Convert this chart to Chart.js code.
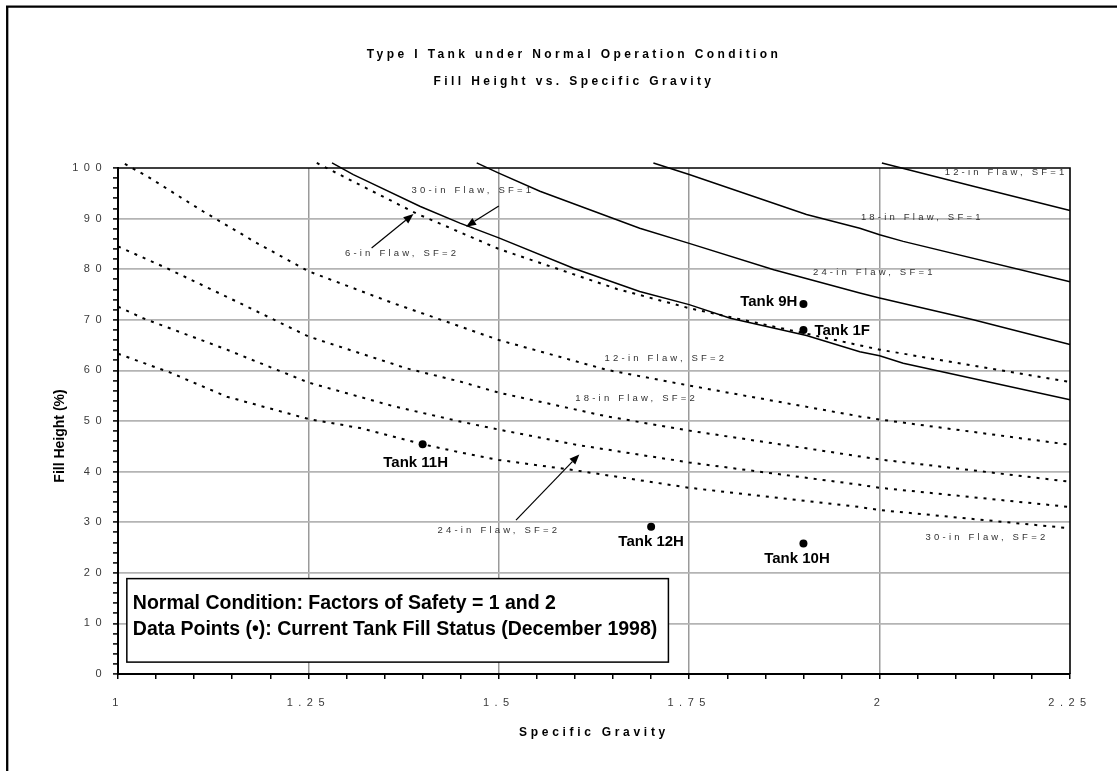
<!DOCTYPE html>
<html>
<head>
<meta charset="utf-8">
<script src="https://cdn.jsdelivr.net/npm/chart.js@4.4.1/dist/chart.umd.min.js"></script>
<style>
  html, body { margin: 0; padding: 0; background: #fff; }
  canvas { display: block; }
</style>
</head>
<body>
<canvas id="chart" width="1117" height="771"></canvas>
<script>
const FONT = '"Liberation Sans", Arial, Helvetica, sans-serif';

// Axis ticks
const xTickValues = [1, 1.25, 1.5, 1.75, 2, 2.25];
const xTickLabels = ['1', '1.25', '1.5', '1.75', '2', '2.25'];
const yTickValues = [0, 10, 20, 30, 40, 50, 60, 70, 80, 90, 100];
const yTickLabels = ['0', '10', '20', '30', '40', '50', '60', '70', '80', '90', '100'];

// Allowable fill height (%) vs specific gravity, factor of safety = 1
const flaw12SF1 = [[2.003, 101.0], [2.123, 96.4], [2.25, 91.6]];
const flaw18SF1 = [[1.703, 101.0], [1.75, 98.7], [1.904, 90.8], [1.974, 88.1], [2.0, 86.8], [2.031, 85.5], [2.25, 77.5]];
const flaw24SF1 = [[1.471, 101.0], [1.5, 99.0], [1.554, 95.4], [1.685, 88.1], [1.75, 85.1], [1.861, 79.9], [1.974, 75.3], [2.0, 74.3], [2.123, 70.0], [2.25, 65.1]];
const flaw30SF1 = [[1.281, 101.0], [1.309, 98.7], [1.327, 97.4], [1.397, 92.4], [1.449, 89.1], [1.5, 86.2], [1.598, 80.2], [1.685, 75.6], [1.75, 73.0], [1.804, 70.3], [1.904, 66.9], [1.974, 63.7], [2.0, 62.9], [2.031, 61.4], [2.25, 54.2]];

// Allowable fill height (%) vs specific gravity, factor of safety = 2
const flaw6SF2 = [[1.261, 101.0], [1.300, 98.0], [1.392, 91.0], [1.5, 84.0], [1.655, 76.1], [1.75, 72.3], [2.0, 64.1], [2.25, 57.7]];
const flaw12SF2 = [[1.009, 100.8], [1.040, 98.2], [1.112, 91.4], [1.182, 85.2], [1.25, 79.6], [1.361, 73.3], [1.449, 68.7], [1.5, 66.0], [1.642, 60.1], [1.75, 57.0], [1.974, 50.9], [2.0, 50.3], [2.25, 45.3]];
const flaw18SF2 = [[1.0, 84.5], [1.064, 80.2], [1.160, 73.3], [1.25, 66.7], [1.379, 60.4], [1.449, 57.8], [1.5, 55.6], [1.642, 50.9], [1.75, 48.1], [1.904, 44.6], [2.0, 42.4], [2.25, 38.0]];
const flaw24SF2 = [[1.0, 72.6], [1.033, 70.3], [1.143, 64.1], [1.25, 57.6], [1.362, 52.9], [1.449, 49.9], [1.5, 48.3], [1.602, 45.3], [1.75, 41.8], [1.974, 37.4], [2.0, 36.8], [2.25, 33.0]];
const flaw30SF2 = [[1.0, 63.3], [1.068, 59.6], [1.143, 54.8], [1.25, 50.4], [1.318, 48.6], [1.4, 45.4], [1.449, 43.8], [1.5, 42.3], [1.598, 40.3], [1.75, 36.8], [1.974, 33.0], [2.0, 32.4], [2.25, 28.8]];

// Current tank fill status (December 1998)
const tankNames = ['Tank 9H', 'Tank 1F', 'Tank 11H', 'Tank 12H', 'Tank 10H'];
const tankSG = [1.9, 1.9, 1.4, 1.7, 1.9];
const tankFill = [73.1, 68.0, 45.4, 29.1, 25.8];

const toPoints = arr => arr.map(([x, y]) => ({ x, y }));
const labelFor = (values, labels, v) => {
  const i = values.findIndex(t => Math.abs(t - v) < 1e-6);
  return i >= 0 ? labels[i] : '';
};
const isInner = (values, v) => values.slice(1, -1).some(t => Math.abs(t - v) < 1e-6);

// Curve captions (placed in data units)
const curveCaptions = [
  { text: '12-in Flaw, SF=1', x: 2.166, y: 99.1 },
  { text: '18-in Flaw, SF=1', x: 2.056, y: 90.2 },
  { text: '24-in Flaw, SF=1', x: 1.993, y: 79.3 },
  { text: '30-in Flaw, SF=1', x: 1.466, y: 95.65 },
  { text: '6-in Flaw, SF=2', x: 1.373, y: 83.2 },
  { text: '12-in Flaw, SF=2', x: 1.7195, y: 62.4 },
  { text: '18-in Flaw, SF=2', x: 1.681, y: 54.5 },
  { text: '24-in Flaw, SF=2', x: 1.500, y: 28.3 },
  { text: '30-in Flaw, SF=2', x: 2.141, y: 27.0 }
];

// Leader arrows: tail -> head, in data units
const leaderArrows = [
  { from: [1.333, 84.2], to: [1.388, 90.9] },
  { from: [1.500, 92.5], to: [1.457, 88.4] },
  { from: [1.5226, 30.4], to: [1.6057, 43.4] }
];

// Tank label placement relative to the marker (pixels)
const tankLabelPlacement = [
  { align: 'right', dx: -6, dy: -2 },
  { align: 'left', dx: 11, dy: 1 },
  { align: 'center', dx: -7, dy: 19 },
  { align: 'center', dx: 0, dy: 15 },
  { align: 'center', dx: -6.5, dy: 15 }
];

const noteLines = [
  'Normal Condition: Factors of Safety = 1 and 2',
  'Data Points (\u2022): Current Tank Fill Status (December 1998)'
];

// Letter-spaced rendering for some library-drawn texts (optional horizontal shift)
const spacedParts = [
  { get: ch => ch.titleBlock, method: 'draw', spacing: '3.4px', shift: 9 },
  { get: ch => ch.scales.x, method: 'drawLabels', spacing: '5.5px', shift: 0 },
  { get: ch => ch.scales.x, method: 'drawTitle', spacing: '3.7px', shift: 0 },
  { get: ch => ch.scales.y, method: 'drawLabels', spacing: '5.5px', shift: 0 }
];
const letterSpacingPlugin = {
  id: 'letterSpacing',
  beforeDraw(chart) {
    spacedParts.forEach(p => {
      const obj = p.get(chart);
      if (!obj) return;
      const key = '_spaced_' + p.method;
      if (obj[key]) return;
      const orig = obj[p.method];
      obj[p.method] = function (...args) {
        const c = this.ctx;
        c.save();
        c.letterSpacing = p.spacing;
        if (p.shift) c.translate(p.shift, 0);
        const r = orig.apply(this, args);
        c.restore();
        return r;
      };
      obj[key] = true;
    });
  }
};

// Page background and the frame at the top-left edges
const pagePlugin = {
  id: 'page',
  beforeDraw(chart) {
    const c = chart.ctx;
    c.save();
    c.fillStyle = '#fff';
    c.fillRect(0, 0, chart.width, chart.height);
    c.strokeStyle = '#000';
    c.lineWidth = 2.3;
    c.beginPath();
    c.moveTo(7.2, 5.6);
    c.lineTo(7.2, chart.height);
    c.moveTo(6, 6.7);
    c.lineTo(chart.width, 6.7);
    c.stroke();
    c.restore();
  }
};

function drawArrow(c, x0, y0, x1, y1) {
  const ang = Math.atan2(y1 - y0, x1 - x0);
  const len = 10, half = 4;
  const bx = x1 - len * Math.cos(ang), by = y1 - len * Math.sin(ang);
  c.beginPath();
  c.moveTo(x0, y0);
  c.lineTo(bx, by);
  c.stroke();
  c.beginPath();
  c.moveTo(x1, y1);
  c.lineTo(bx + half * Math.sin(ang), by - half * Math.cos(ang));
  c.lineTo(bx - half * Math.sin(ang), by + half * Math.cos(ang));
  c.closePath();
  c.fill();
}

const annotationPlugin = {
  id: 'annotations',
  afterDatasetsDraw(chart) {
    const c = chart.ctx;
    const xs = chart.scales.x, ys = chart.scales.y;
    const px = v => xs.getPixelForValue(v);
    const py = v => ys.getPixelForValue(v);
    const area = chart.chartArea;
    c.save();

    // top and right edges of the plot frame
    c.strokeStyle = '#000';
    c.lineWidth = 1.6;
    c.beginPath();
    c.moveTo(area.left, area.top);
    c.lineTo(area.right, area.top);
    c.lineTo(area.right, area.bottom);
    c.stroke();

    // curve captions
    c.fillStyle = '#333';
    c.font = '9.5px ' + FONT;
    c.letterSpacing = '3.2px';
    c.textAlign = 'center';
    c.textBaseline = 'middle';
    curveCaptions.forEach(l => c.fillText(l.text, px(l.x), py(l.y)));
    c.letterSpacing = '0px';

    // leader arrows
    c.strokeStyle = '#000';
    c.fillStyle = '#000';
    c.lineWidth = 1.2;
    leaderArrows.forEach(a => drawArrow(c, px(a.from[0]), py(a.from[1]), px(a.to[0]), py(a.to[1])));

    // tank labels
    c.font = 'bold 15px ' + FONT;
    c.fillStyle = '#000';
    c.textBaseline = 'middle';
    tankNames.forEach((name, i) => {
      const p = tankLabelPlacement[i];
      c.textAlign = p.align;
      c.fillText(name, px(tankSG[i]) + p.dx, py(tankFill[i]) + p.dy);
    });

    // note box
    const bx0 = px(1.0116), bx1 = px(1.7227);
    const by0 = py(18.85), by1 = py(2.35);
    c.fillStyle = '#fff';
    c.fillRect(bx0, by0, bx1 - bx0, by1 - by0);
    c.strokeStyle = '#000';
    c.lineWidth = 1.5;
    c.strokeRect(bx0, by0, bx1 - bx0, by1 - by0);
    c.fillStyle = '#000';
    c.font = 'bold 19.5px ' + FONT;
    c.textAlign = 'left';
    c.textBaseline = 'middle';
    noteLines.forEach((t, i) => c.fillText(t, bx0 + 6, by0 + 25 + i * 26.5));

    // vertical axis title
    c.save();
    c.translate(60, (area.top + area.bottom) / 2 + 15);
    c.rotate(-Math.PI / 2);
    c.font = 'bold 14px ' + FONT;
    c.textAlign = 'center';
    c.textBaseline = 'middle';
    c.fillText('Fill Height (%)', 0, 0);
    c.restore();

    c.restore();
  }
};

const solid = (label, data) => ({
  label, data: toPoints(data), showLine: true, borderColor: '#000', borderWidth: 1.5,
  pointRadius: 0, fill: false, tension: 0, clip: { left: 0, top: 8, right: 1, bottom: 0 }
});
const dotted = (label, data) => ({
  label, data: toPoints(data), showLine: true, borderColor: '#000', borderWidth: 2,
  borderDash: [3, 6], pointRadius: 0, fill: false, tension: 0, clip: { left: 0, top: 8, right: 1, bottom: 0 }
});

new Chart(document.getElementById('chart'), {
  type: 'scatter',
  data: {
    datasets: [
      solid('12-in Flaw, SF=1', flaw12SF1),
      solid('18-in Flaw, SF=1', flaw18SF1),
      solid('24-in Flaw, SF=1', flaw24SF1),
      solid('30-in Flaw, SF=1', flaw30SF1),
      dotted('6-in Flaw, SF=2', flaw6SF2),
      dotted('12-in Flaw, SF=2', flaw12SF2),
      dotted('18-in Flaw, SF=2', flaw18SF2),
      dotted('24-in Flaw, SF=2', flaw24SF2),
      dotted('30-in Flaw, SF=2', flaw30SF2),
      {
        label: 'Current Tank Fill Status',
        data: tankSG.map((x, i) => ({ x, y: tankFill[i] })),
        showLine: false, pointRadius: 4, pointBackgroundColor: '#000', pointBorderColor: '#000', pointBorderWidth: 0
      }
    ]
  },
  options: {
    responsive: false,
    animation: false,
    devicePixelRatio: 1,
    layout: { padding: { left: 60, right: 47, top: 0, bottom: 0 } },
    plugins: {
      legend: { display: false },
      tooltip: { enabled: false },
      title: {
        display: true,
        text: ['Type I Tank under Normal Operation Condition', 'Fill Height vs. Specific Gravity'],
        color: '#000',
        font: { family: FONT, size: 12, weight: 'bold', lineHeight: '27px' },
        padding: { top: 41.5, bottom: 72.5 }
      }
    },
    scales: {
      x: {
        type: 'linear', position: 'bottom', min: 1, max: 2.25,
        afterFit: s => { s.height = 97; },
        ticks: {
          stepSize: 0.05, autoSkip: false, maxRotation: 0, minRotation: 0, padding: 17,
          color: '#3a3a3a', font: { family: FONT, size: 11 },
          callback: v => labelFor(xTickValues, xTickLabels, v)
        },
        grid: {
          color: c => isInner(xTickValues, c.tick.value) ? '#9a9a9a' : 'rgba(0,0,0,0)',
          lineWidth: 1.5, drawTicks: true, tickLength: 5, tickColor: '#000', tickWidth: 1.5
        },
        border: { display: true, color: '#000', width: 2 },
        title: {
          display: true, text: 'Specific Gravity', color: '#000',
          font: { family: FONT, size: 12, weight: 'bold', lineHeight: 1 },
          padding: { top: 0, bottom: 32 }
        }
      },
      y: {
        type: 'linear', position: 'left', min: 0, max: 100,
        afterFit: s => { s.width = 58; },
        ticks: {
          stepSize: 2, autoSkip: false, padding: 6,
          color: '#3a3a3a', font: { family: FONT, size: 11 },
          callback: v => labelFor(yTickValues, yTickLabels, v)
        },
        grid: {
          color: c => isInner(yTickValues, c.tick.value) ? '#b4b4b4' : 'rgba(0,0,0,0)',
          lineWidth: 1.8, drawTicks: true, tickLength: 5, tickColor: '#000', tickWidth: 1.5
        },
        border: { display: true, color: '#000', width: 2 },
        title: { display: false }
      }
    }
  },
  plugins: [pagePlugin, letterSpacingPlugin, annotationPlugin]
});
</script>
</body>
</html>
